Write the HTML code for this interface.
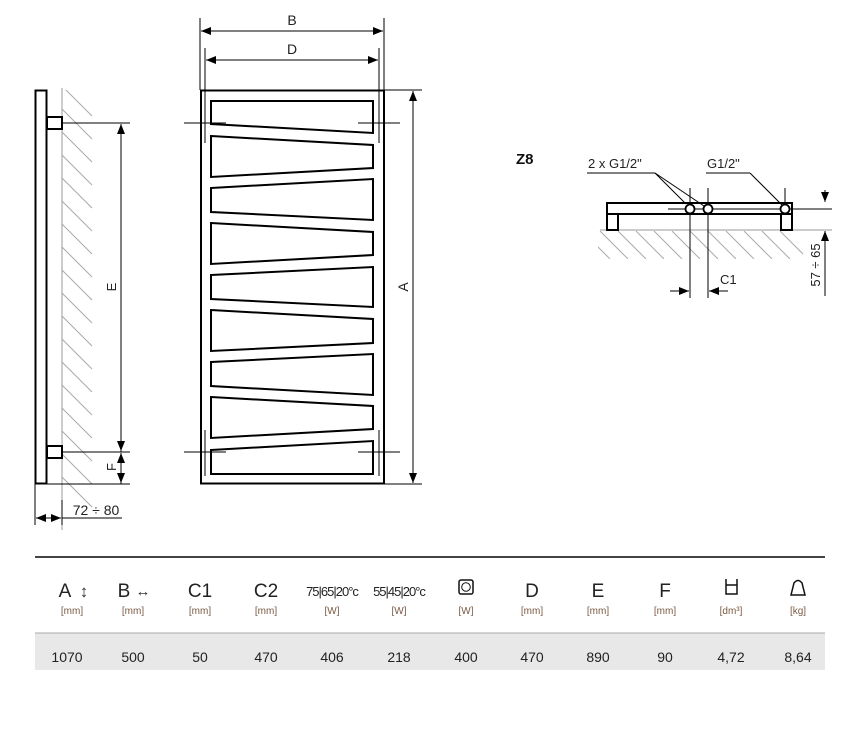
<!DOCTYPE html>
<html><head><meta charset="utf-8"><style>
body{margin:0;background:#fff;}
svg{display:block;font-family:"Liberation Sans",sans-serif;}
</style></head><body>
<svg width="846" height="748" viewBox="0 0 846 748" xmlns="http://www.w3.org/2000/svg">
<defs>
<marker id="ar" markerWidth="10" markerHeight="8" refX="10" refY="4" orient="auto" markerUnits="userSpaceOnUse"><path d="M0,0 L10,4 L0,8 Z" fill="#000"/></marker>
<clipPath id="wall"><rect x="62" y="90" width="32" height="420"/></clipPath>
<clipPath id="floor"><rect x="598" y="231" width="205" height="28"/></clipPath>
</defs>
<rect width="846" height="748" fill="#fff"/>

<!-- side view -->
<g clip-path="url(#wall)" stroke="#aaa" stroke-width="1">
<line x1="62" y1="86" x2="92" y2="116"/><line x1="62" y1="109" x2="92" y2="139"/><line x1="62" y1="132" x2="92" y2="162"/><line x1="62" y1="155" x2="92" y2="185"/><line x1="62" y1="178" x2="92" y2="208"/><line x1="62" y1="201" x2="92" y2="231"/><line x1="62" y1="224" x2="92" y2="254"/><line x1="62" y1="247" x2="92" y2="277"/><line x1="62" y1="270" x2="92" y2="300"/><line x1="62" y1="293" x2="92" y2="323"/><line x1="62" y1="316" x2="92" y2="346"/><line x1="62" y1="339" x2="92" y2="369"/><line x1="62" y1="362" x2="92" y2="392"/><line x1="62" y1="385" x2="92" y2="415"/><line x1="62" y1="408" x2="92" y2="438"/><line x1="62" y1="431" x2="92" y2="461"/><line x1="62" y1="454" x2="92" y2="484"/><line x1="62" y1="477" x2="92" y2="507"/>
</g>
<line x1="62" y1="88" x2="62" y2="530" stroke="#999" stroke-width="1"/>
<rect x="35.5" y="90.5" width="11" height="393" fill="none" stroke="#000" stroke-width="2"/>
<rect x="47" y="117" width="15" height="12" fill="#fff" stroke="#000" stroke-width="2"/>
<rect x="47" y="446" width="15" height="12" fill="#fff" stroke="#000" stroke-width="2"/>
<g stroke="#000" stroke-width="1">
<line x1="62" y1="123" x2="130" y2="123"/><line x1="62" y1="452" x2="130" y2="452"/><line x1="47" y1="484" x2="130" y2="484"/>
<line x1="121" y1="452" x2="121" y2="124" marker-end="url(#ar)"/>
<line x1="121" y1="124" x2="121" y2="451" marker-end="url(#ar)"/>
<line x1="121" y1="484" x2="121" y2="453" marker-end="url(#ar)"/>
<line x1="121" y1="453" x2="121" y2="483" marker-end="url(#ar)"/>
<line x1="35" y1="484" x2="35" y2="525"/>
<line x1="62" y1="500" x2="62" y2="525"/>
<line x1="62" y1="518" x2="122" y2="518"/>
<line x1="49" y1="518" x2="36" y2="518" marker-end="url(#ar)"/>
<line x1="49" y1="518" x2="61" y2="518" marker-end="url(#ar)"/>
</g>
<text transform="translate(116,287) rotate(-90)" font-size="13" text-anchor="middle" fill="#222">E</text>
<text transform="translate(116,467) rotate(-90)" font-size="13" text-anchor="middle" fill="#222">F</text>
<text x="96" y="515" font-size="14" text-anchor="middle" fill="#222">72 ÷ 80</text>

<!-- front view -->
<rect x="201" y="90.5" width="183" height="393" fill="none" stroke="#000" stroke-width="2"/>
<g fill="none" stroke="#000" stroke-width="2">
<polygon points="211,101 373,101 373,133 211,124"/>
<polygon points="211,136 373,145 373,168 211,177"/>
<polygon points="211,188 373,179 373,220 211,212"/>
<polygon points="211,223 373,232 373,255 211,264"/>
<polygon points="211,275 373,267 373,307 211,299"/>
<polygon points="211,310 373,319 373,343 211,351"/>
<polygon points="211,362 373,354 373,395 211,386"/>
<polygon points="211,397 373,406 373,429 211,438"/>
<polygon points="211,450 373,441 373,474 211,474"/>
</g>
<g stroke="#000" stroke-width="1">
<line x1="200" y1="18" x2="200" y2="90"/><line x1="384" y1="18" x2="384" y2="90"/>
<line x1="292" y1="31" x2="201" y2="31" marker-end="url(#ar)"/><line x1="292" y1="31" x2="383" y2="31" marker-end="url(#ar)"/>
<line x1="205" y1="48" x2="205" y2="143"/><line x1="379" y1="48" x2="379" y2="143"/>
<line x1="205" y1="430" x2="205" y2="476"/><line x1="379" y1="430" x2="379" y2="476"/>
<line x1="292" y1="60" x2="206" y2="60" marker-end="url(#ar)"/><line x1="292" y1="60" x2="378" y2="60" marker-end="url(#ar)"/>
<line x1="184" y1="123" x2="226" y2="123"/><line x1="358" y1="123" x2="400" y2="123"/>
<line x1="184" y1="452" x2="226" y2="452"/><line x1="358" y1="452" x2="400" y2="452"/>
<line x1="384" y1="90" x2="422" y2="90"/><line x1="384" y1="484" x2="422" y2="484"/>
<line x1="413" y1="287" x2="413" y2="91" marker-end="url(#ar)"/><line x1="413" y1="287" x2="413" y2="483" marker-end="url(#ar)"/>
</g>
<text x="292" y="25" font-size="14" text-anchor="middle" fill="#222">B</text>
<text x="292" y="54" font-size="14" text-anchor="middle" fill="#222">D</text>
<text transform="translate(408,287) rotate(-90)" font-size="14" text-anchor="middle" fill="#222">A</text>

<!-- Z8 -->
<text x="516" y="164" font-size="15" font-weight="bold" fill="#111">Z8</text>
<g clip-path="url(#floor)" stroke="#aaa" stroke-width="1">
<line x1="582" y1="231" x2="610" y2="259"/><line x1="600" y1="231" x2="628" y2="259"/><line x1="618" y1="231" x2="646" y2="259"/><line x1="636" y1="231" x2="664" y2="259"/><line x1="654" y1="231" x2="682" y2="259"/><line x1="672" y1="231" x2="700" y2="259"/><line x1="690" y1="231" x2="718" y2="259"/><line x1="708" y1="231" x2="736" y2="259"/><line x1="726" y1="231" x2="754" y2="259"/><line x1="744" y1="231" x2="772" y2="259"/><line x1="762" y1="231" x2="790" y2="259"/><line x1="780" y1="231" x2="808" y2="259"/>
</g>
<line x1="600" y1="230" x2="832" y2="230" stroke="#999"/>
<rect x="607" y="203" width="185" height="11" fill="none" stroke="#000" stroke-width="2"/>
<rect x="607" y="214" width="11" height="16" fill="#fff" stroke="#000" stroke-width="2"/>
<rect x="781" y="214" width="11" height="16" fill="#fff" stroke="#000" stroke-width="2"/>
<g stroke="#000" stroke-width="1">
<line x1="668" y1="209" x2="832" y2="209"/>
<line x1="690" y1="188" x2="690" y2="298"/><line x1="708" y1="188" x2="708" y2="298"/>
<line x1="785" y1="188" x2="785" y2="204"/>
<line x1="670" y1="291" x2="689" y2="291" marker-end="url(#ar)"/>
<line x1="728" y1="291" x2="709" y2="291" marker-end="url(#ar)"/>
<line x1="825" y1="190" x2="825" y2="202" marker-end="url(#ar)"/>
<line x1="825" y1="296" x2="825" y2="231" marker-end="url(#ar)"/>
<line x1="587" y1="173" x2="655" y2="173"/>
<line x1="655" y1="173" x2="686" y2="204"/><line x1="655" y1="173" x2="704" y2="206"/>
<line x1="706" y1="173" x2="750" y2="173"/><line x1="750" y1="173" x2="782" y2="205"/>
</g>
<g fill="#fff" stroke="#000" stroke-width="1.8">
<circle cx="690" cy="209" r="4.5"/><circle cx="708" cy="209" r="4.5"/><circle cx="785" cy="209" r="4.5"/>
</g>
<text x="588" y="168" font-size="13" fill="#222">2 x G1/2"</text>
<text x="707" y="168" font-size="13" fill="#222">G1/2"</text>
<text x="720" y="284" font-size="13" fill="#222">C1</text>
<text transform="translate(820,265) rotate(-90)" font-size="13" text-anchor="middle" fill="#222">57 ÷ 65</text>

<!-- table -->
<line x1="35" y1="557" x2="825" y2="557" stroke="#444" stroke-width="2"/>
<rect x="35" y="633" width="790" height="37" fill="#e8e8e9"/>
<line x1="35" y1="633" x2="825" y2="633" stroke="#aaa" stroke-width="1"/>
<g font-size="19" text-anchor="middle" fill="#222">
<text x="65" y="597">A</text><text x="124" y="597">B</text><text x="200" y="597">C1</text><text x="266" y="597">C2</text>
<text x="532" y="597">D</text><text x="598" y="597">E</text><text x="665" y="597">F</text>
</g>
<text x="84" y="597" font-size="17" text-anchor="middle" fill="#333">↕</text>
<text x="143" y="596" font-size="15" text-anchor="middle" fill="#333">↔</text>
<g font-size="13" text-anchor="middle" fill="#222" letter-spacing="-1">
<text x="332" y="596">75|65|20°c</text><text x="399" y="596">55|45|20°c</text>
</g>
<rect x="459" y="580" width="14" height="14" rx="2" fill="none" stroke="#111" stroke-width="1.5"/>
<circle cx="466" cy="587" r="4.3" fill="none" stroke="#111" stroke-width="1"/>
<path d="M726,579 v15 h11 v-15 M726,585 h11" fill="none" stroke="#111" stroke-width="1.5"/>
<path d="M791,595 l3,-12 q4,-5 8,0 l3,12 z" fill="none" stroke="#111" stroke-width="1.5"/>
<g font-size="10" text-anchor="middle" fill="#7a5a44">
<text x="72" y="614">[mm]</text><text x="133" y="614">[mm]</text><text x="200" y="614">[mm]</text><text x="266" y="614">[mm]</text>
<text x="332" y="614">[W]</text><text x="399" y="614">[W]</text><text x="466" y="614">[W]</text>
<text x="532" y="614">[mm]</text><text x="598" y="614">[mm]</text><text x="665" y="614">[mm]</text>
<text x="731" y="614">[dm³]</text><text x="798" y="614">[kg]</text>
</g>
<g font-size="14" text-anchor="middle" fill="#222">
<text x="67" y="662">1070</text><text x="133" y="662">500</text><text x="200" y="662">50</text><text x="266" y="662">470</text>
<text x="332" y="662">406</text><text x="399" y="662">218</text><text x="466" y="662">400</text><text x="532" y="662">470</text>
<text x="598" y="662">890</text><text x="665" y="662">90</text><text x="731" y="662">4,72</text><text x="798" y="662">8,64</text>
</g>
</svg>
</body></html>
